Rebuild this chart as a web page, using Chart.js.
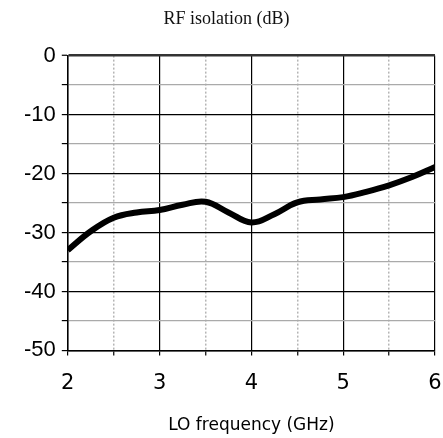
<!DOCTYPE html>
<html>
<head>
<meta charset="utf-8">
<script src="https://cdn.jsdelivr.net/npm/chart.js@4/dist/chart.umd.min.js"></script>
<style>
  html, body { margin: 0; padding: 0; background: #fff; }
  #wrap { width: 443px; height: 438px; }
</style>
</head>
<body>
<div id="wrap"><canvas id="chart"></canvas></div>
<script>
// LO frequency (GHz) and RF isolation (dB)
const freqs = [2, 2.25, 2.5, 2.75, 3, 3.25, 3.5, 3.75, 4, 4.25, 4.5, 4.75, 5, 5.25, 5.5, 5.75, 6];
const isolation = [-33.0, -29.8, -27.5, -26.6, -26.2, -25.3, -24.8, -26.6, -28.3, -26.9, -24.9, -24.4, -24.0, -23.1, -22.0, -20.6, -18.9];

const xMin = 2, xMax = 6;
const yMin = -50, yMax = 0;

const isMajorX = (v) => Math.abs(v - Math.round(v)) < 1e-6;
const isMajorY = (v) => Math.abs(v % 10) < 1e-6;

const ctx = document.getElementById("chart");
new Chart(ctx, {
  type: "line",
  data: {
    datasets: [
      {
        label: "RF isolation",
        data: freqs.map((f, i) => ({ x: f, y: isolation[i] })),
        borderColor: "#000",
        borderWidth: 6,
        pointRadius: 0,
        tension: 0.4,
        fill: false,
      },
    ],
  },
  options: {
    responsive: true,
    maintainAspectRatio: false,
    animation: false,
    layout: { padding: { left: 18, right: 8, top: 4, bottom: 2 } },
    plugins: {
      legend: { display: false },
      tooltip: { enabled: false },
      title: {
        display: true,
        text: "RF isolation (dB)",
        color: "#111",
        font: { family: "Liberation Serif", size: 18, weight: "normal" },
        padding: { top: 4, bottom: 26 },
      },
    },
    scales: {
      x: {
        type: "linear",
        min: xMin,
        max: xMax,
        // let the "6" label run to the canvas edge like the original
        afterFit: (scale) => { scale.paddingRight = 0; },
        ticks: {
          stepSize: 0.5,
          color: "#000",
          font: { family: "DejaVu Sans", size: 21 },
          padding: 16,
          maxRotation: 0,
          autoSkip: false,
          callback: (v) => (isMajorX(v) ? String(v) : ""),
        },
        grid: {
          color: (c) => (c.tick && isMajorX(c.tick.value) ? "#000" : "#b5b5b5"),
          lineWidth: (c) => (c.tick && isMajorX(c.tick.value) ? 1.2 : 1.5),
          tickColor: "#000",
          tickLength: 5,
          tickWidth: 1.2,
        },
        border: {
          color: "#000",
          width: 1.5,
          dash: (c) => (c.tick && !isMajorX(c.tick.value) ? [2, 2] : []),
        },
        title: {
          display: true,
          text: "LO frequency (GHz)",
          color: "#000",
          font: { family: "DejaVu Sans", size: 17 },
          padding: { top: 3, bottom: 0 },
        },
      },
      y: {
        min: yMin,
        max: yMax,
        ticks: {
          stepSize: 5,
          color: "#000",
          font: { family: "Liberation Sans", size: 22 },
          padding: 6,
          autoSkip: false,
          callback: (v) => (isMajorY(v) ? String(v) : ""),
        },
        grid: {
          color: (c) => {
            if (!c.tick) return "#000";
            if (c.tick.value === 0) return "#333";
            return isMajorY(c.tick.value) ? "#000" : "#aaa";
          },
          lineWidth: (c) => (c.tick && c.tick.value === 0 ? 2.5 : 1.2),
          tickColor: "#000",
          tickLength: 6,
          tickWidth: 1.2,
        },
        border: { color: "#000", width: 1.5 },
      },
    },
  },
});
</script>
</body>
</html>
